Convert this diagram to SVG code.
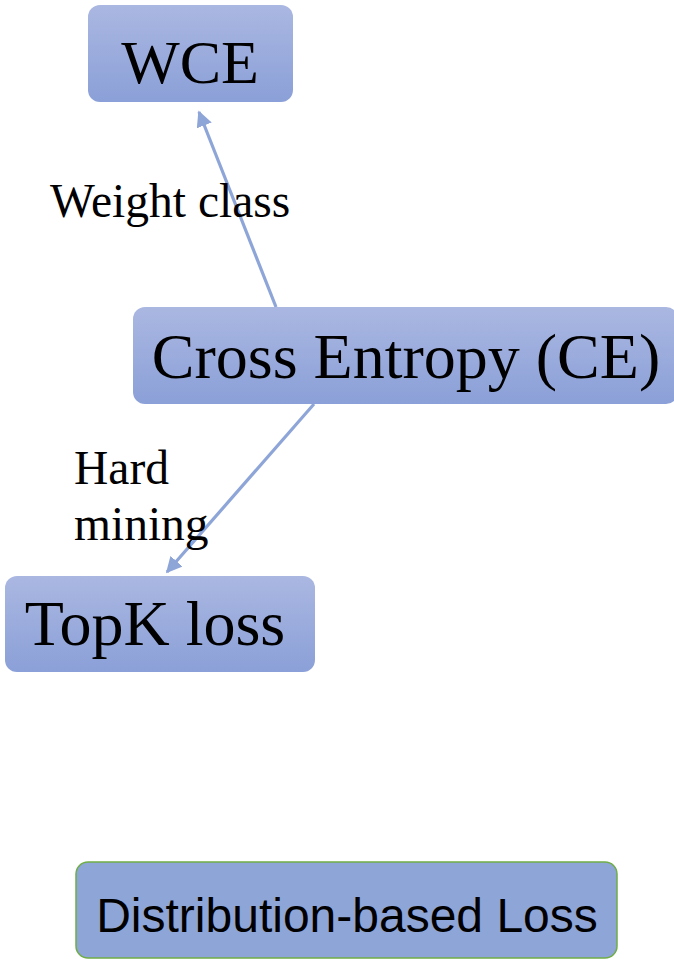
<svg xmlns="http://www.w3.org/2000/svg" width="674" height="959" viewBox="0 0 674 959">
<defs>
<linearGradient id="g" x1="0" y1="0" x2="0" y2="1">
<stop offset="0" stop-color="#aab7e1"/>
<stop offset="1" stop-color="#8ba0d8"/>
</linearGradient>
<marker id="ah" viewBox="0 0 10 10" refX="9" refY="5" markerWidth="5" markerHeight="5" orient="auto" markerUnits="strokeWidth">
<path d="M0,0 L10,5 L0,10 z" fill="#8ea5d8"/>
</marker>
</defs>
<style>
.box{fill:url(#g);}
.t{font-family:"Liberation Serif","Times New Roman",serif;fill:#000;text-anchor:middle;font-size:64px;}
.lbl{font-family:"Liberation Serif","Times New Roman",serif;fill:#000;font-size:47.5px;}
.edge{stroke:#8ea5d8;stroke-width:3.2;fill:none;marker-end:url(#ah);}
</style>
<g id="edges">
<line class="edge" x1="276" y1="307" x2="199" y2="112"/>
<line class="edge" x1="314" y1="404" x2="167" y2="572"/>
</g>
<g id="wce">
<rect class="box" x="88" y="5" width="205" height="97" rx="12"/>
<text class="t" x="190" y="83" style="font-size:62px">WCE</text>
</g>
<g id="ce">
<rect class="box" x="133" y="307" width="545" height="97" rx="12"/>
<text class="t" x="406" y="378">Cross Entropy (CE)</text>
</g>
<g id="topk">
<rect class="box" x="5" y="576" width="310" height="96" rx="12"/>
<text class="t" x="155" y="645">TopK loss</text>
</g>
<g id="dist">
<rect x="76" y="862" width="541" height="96" rx="12" fill="#8ea5d8" stroke="#70ad47" stroke-width="1.5"/>
<text x="347" y="932" font-family="'Liberation Sans',Arial,sans-serif" font-size="48" text-anchor="middle" fill="#000">Distribution-based Loss</text>
</g>
<g id="labels">
<text class="lbl" x="50" y="217">Weight class</text>
<text class="lbl" x="74" y="484">Hard</text>
<text class="lbl" x="74" y="540">mining</text>
</g>
</svg>
